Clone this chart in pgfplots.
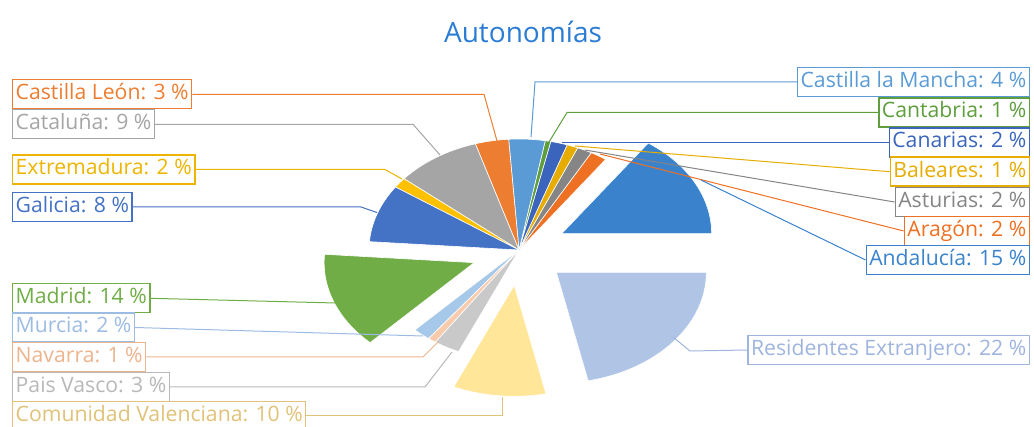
\documentclass[border=0pt]{standalone}
\usepackage{pgfplots}
\pgfplotsset{compat=1.18}
\usepackage{pgfplotstable}
\usepackage{fontspec}
\setmainfont{Open Sans}
\definecolor{cAnd}{HTML}{3A83CC}
\definecolor{cAra}{HTML}{EE7022}
\definecolor{cAst}{HTML}{858585}
\definecolor{cBal}{HTML}{E6AC00}
\definecolor{cCan}{HTML}{3B65BD}
\definecolor{cCnt}{HTML}{5E9E3C}
\definecolor{cCLM}{HTML}{5B9BD5}
\definecolor{cCL}{HTML}{ED7D31}
\definecolor{cCat}{HTML}{A5A5A5}
\definecolor{cExt}{HTML}{FFC000}
\definecolor{cGal}{HTML}{4472C4}
\definecolor{cMad}{HTML}{70AD47}
\definecolor{cMur}{HTML}{A6C8E9}
\definecolor{cNav}{HTML}{F8CBAD}
\definecolor{cPV}{HTML}{C9C9C9}
\definecolor{cCV}{HTML}{FFE699}
\definecolor{cRes}{HTML}{B0C5E6}
\definecolor{lExt}{HTML}{EDB500}
\definecolor{lMur}{HTML}{9DBCE3}
\definecolor{lNav}{HTML}{EDB48E}
\definecolor{lPV}{HTML}{B8B8B8}
\definecolor{lCV}{HTML}{E0C279}
\definecolor{lRes}{HTML}{9FB5DF}
\definecolor{cTitle}{HTML}{2B7CD3}

% share of each region (percent), explode offset (px), colour
\pgfplotstableread[col sep=comma]{
region,value,explode,color
Andalucía,15.2,48,cAnd
Aragón,1.8,0,cAra
Asturias,1.6,0,cAst
Baleares,1.2,0,cBal
Canarias,1.8,0,cCan
Cantabria,0.6,0,cCnt
Castilla la Mancha,3.9,0,cCLM
Castilla León,3.6,0,cCL
Cataluña,9.2,0,cCat
Extremadura,1.5,0,cExt
Galicia,8.4,0,cGal
Madrid,14.0,48,cMad
Murcia,1.9,0,cMur
Navarra,0.9,0,cNav
Pais Vasco,2.8,0,cPV
Comunidad Valenciana,10.0,48,cCV
Residentes Extranjero,21.6,48,cRes
}\slicetable

\begin{document}
\begin{tikzpicture}[
  lab/.style={draw=#1, text=#1, line width=1.4pt, fill=white,
    inner xsep=3pt, inner ysep=0pt, minimum height=29pt,
    text height=15.5pt, text depth=4.5pt,
    font=\fontsize{21.2}{25}\selectfont},
  ld/.style={draw=#1, line width=1pt}]
\begin{axis}[hide axis, x=1pt, y=1pt, y dir=reverse,
  xmin=0, xmax=1034, ymin=0, ymax=427, clip=false]
\coordinate (ll) at (axis cs:0,427);
\coordinate (ur) at (axis cs:1034,0);

% ---------- slices ----------
\gdef\cum{0}
\pgfplotstablegetrowsof{\slicetable}
\pgfmathtruncatemacro{\lastrow}{\pgfplotsretval-1}
\foreach \i in {0,...,\lastrow}{%
  \pgfplotstablegetelem{\i}{value}\of{\slicetable}\let\sv\pgfplotsretval
  \pgfplotstablegetelem{\i}{explode}\of{\slicetable}\let\sx\pgfplotsretval
  \pgfplotstablegetelem{\i}{color}\of{\slicetable}\let\sc\pgfplotsretval
  \pgfmathsetmacro{\sa}{\cum*3.6}%
  \pgfmathsetmacro{\sb}{(\cum+\sv)*3.6}%
  \pgfmathsetmacro{\sm}{(\sa+\sb)/2}%
  \pgfmathsetmacro{\sxy}{\sx*0.74}%
  \edef\doslice{\noexpand\fill[\sc, draw=white, line width=0.6pt]
    ([shift={(\sm:\sx pt and \sxy pt)}]axis cs:519,250) coordinate (C)
    -- ([shift={(\sa:150pt and 111pt)}]C)
    arc[start angle=\sa, end angle=\sb, x radius=150pt, y radius=111pt] -- cycle;}%
  \doslice
  \pgfmathsetmacro{\newcum}{\cum+\sv}%
  \global\let\cum\newcum
}

% ---------- title ----------
\node[font=\fontsize{28}{33}\selectfont, text=cTitle] at (axis cs:523,32) {Autonomías};

% ---------- labels, right ----------
\node[lab=cCLM, anchor=east] (nCLM) at (axis cs:1030,82) {Castilla la Mancha: 4 \%};
\node[lab=cCnt, anchor=east] (nCnt) at (axis cs:1030,112.5) {Cantabria: 1 \%};
\node[lab=cCan, anchor=east] (nCan) at (axis cs:1030,142.5) {Canarias: 2 \%};
\node[lab=cBal, anchor=east] (nBal) at (axis cs:1030,171.7) {Baleares: 1 \%};
\node[lab=cAst, anchor=east] (nAst) at (axis cs:1030,202) {Asturias: 2 \%};
\node[lab=cAra, anchor=east] (nAra) at (axis cs:1030,231) {Aragón: 2 \%};
\node[lab=cAnd, anchor=east] (nAnd) at (axis cs:1030,260) {Andalucía: 15 \%};
\node[lab=lRes, anchor=east] (nRes) at (axis cs:1030,350) {Residentes Extranjero: 22 \%};

% ---------- labels, left ----------
\node[lab=cCL, anchor=west] (nCL) at (axis cs:12,94.3) {Castilla León: 3 \%};
\node[lab=cCat, anchor=west] (nCat) at (axis cs:12,124.3) {Cataluña: 9 \%};
\node[lab=lExt, anchor=west] (nExt) at (axis cs:12,169.5) {Extremadura: 2 \%};
\node[lab=cGal, anchor=west] (nGal) at (axis cs:12,207) {Galicia: 8 \%};
\node[lab=cMad, anchor=west] (nMad) at (axis cs:12,298.3) {Madrid: 14 \%};
\node[lab=lMur, anchor=west] (nMur) at (axis cs:12,327.5) {Murcia: 2 \%};
\node[lab=lNav, anchor=west] (nNav) at (axis cs:12,357) {Navarra: 1 \%};
\node[lab=lPV, anchor=west] (nPV) at (axis cs:12,387) {Pais Vasco: 3 \%};
\node[lab=lCV, anchor=west] (nCV) at (axis cs:12,416) {Comunidad Valenciana: 10 \%};

% ---------- leader lines ----------
\draw[ld=cCLM] (nCLM.west) -- (axis cs:535,82) -- (axis cs:531,137);
\draw[ld=cCnt] (nCnt.west) -- (axis cs:567,112.5) -- (axis cs:549,142);
\draw[ld=cCan] (nCan.west) -- (axis cs:562,142.5);
\draw[ld=cBal] (nBal.west) -- (axis cs:575,146);
\draw[ld=cAst] (nAst.west) -- (axis cs:585,150);
\draw[ld=cAra] (nAra.west) -- (axis cs:600,154);
\draw[ld=cAnd] (nAnd.west) -- (axis cs:701,180);
\draw[ld=lRes] (nRes.west) -- (axis cs:690,351) -- (axis cs:673,337);
\draw[ld=cCL] (nCL.east) -- (axis cs:484,94.3) -- (axis cs:497,141);
\draw[ld=cCat] (nCat.east) -- (axis cs:413,124.3) -- (axis cs:440,155);
\draw[ld=lExt] (nExt.east) -- (axis cs:385,169.5) -- (axis cs:402,179);
\draw[ld=cGal] (nGal.east) -- (axis cs:361,207) -- (axis cs:377,212.5);
\draw[ld=cMad] (nMad.east) -- (axis cs:336,303);
\draw[ld=lMur] (nMur.east) -- (axis cs:423,336);
\draw[ld=lNav] (nNav.east) -- (axis cs:423,357) -- (axis cs:438,342);
\draw[ld=lPV] (nPV.east) -- (axis cs:425,387) -- (axis cs:452,352);
\draw[ld=lCV] (nCV.east) -- (axis cs:502,416) -- (axis cs:502,397);
\end{axis}
\pgfresetboundingbox
\useasboundingbox (ll) rectangle (ur);
\end{tikzpicture}
\end{document}
